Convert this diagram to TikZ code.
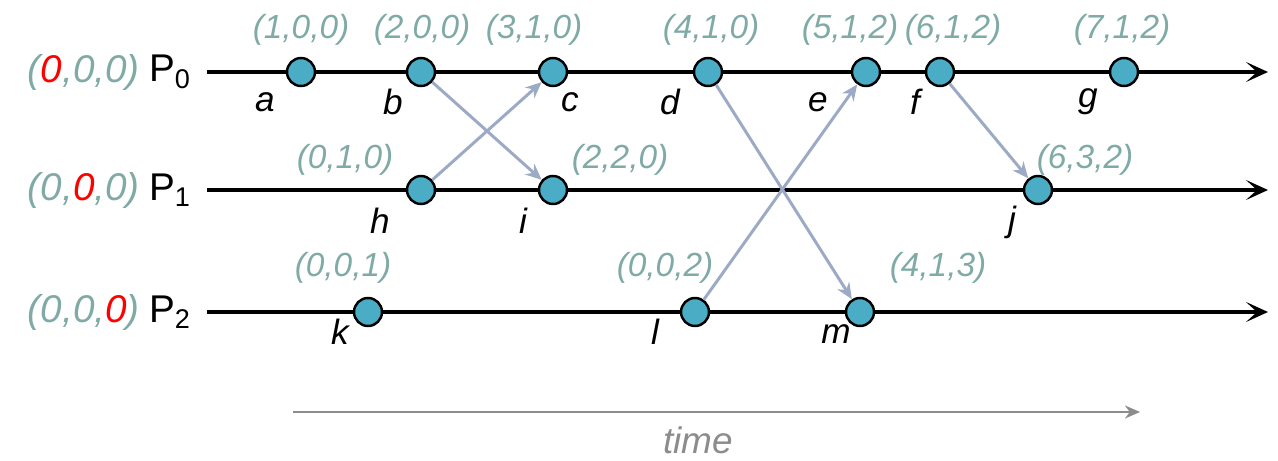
\documentclass[tikz,border=0pt]{standalone}
\usepackage{fontspec}
\setmainfont{Liberation Sans}
\usetikzlibrary{arrows.meta,positioning}
\definecolor{eventcyan}{HTML}{4BACC6}
\definecolor{stampgrey}{HTML}{7FAAA6}
\definecolor{msgblue}{HTML}{9DAAC6}
\definecolor{timegrey}{HTML}{8C8C8C}

\begin{document}
\begin{tikzpicture}[x=0.02cm, y=-0.02cm,
        event/.style={circle, draw=black, line width=1.4pt, fill=eventcyan, minimum size=0.56cm, inner sep=0pt},
        stamp/.style={font=\fontsize{19}{22}\selectfont\itshape, text=stampgrey, inner sep=0pt},
        initstamp/.style={font=\fontsize{22}{24}\selectfont\itshape, text=stampgrey, inner sep=0pt},
        evlabel/.style={font=\fontsize{20}{22}\selectfont\itshape, inner sep=0pt},
        proclabel/.style={font=\fontsize{22}{24}\selectfont, inner sep=0pt},
        procline/.style={-{Stealth[length=4.4mm,width=4mm,inset=2.2mm]}, line width=1.9pt},
        msgarrow/.style={-{Stealth[length=3.2mm,width=2.8mm]}, line width=1.7pt, draw=msgblue},
    ]
    \useasboundingbox (0,0) rectangle (1278,460);
    % Row positions
    \def\rowA{72}
    \def\rowB{190}
    \def\rowC{312}

    % === Process lines ===
    \coordinate (p0s) at (207,\rowA);
    \coordinate (p0e) at (1268,\rowA);
    \coordinate (p1s) at (207,\rowB);
    \coordinate (p1e) at (1268,\rowB);
    \coordinate (p2s) at (207,\rowC);
    \coordinate (p2e) at (1268,\rowC);
    \draw[procline] (p0s) -- (p0e);
    \draw[procline] (p1s) -- (p1e);
    \draw[procline] (p2s) -- (p2e);

    % Process names
    \node[proclabel] (P0) at (170,\rowA) {P\textsubscript{0}};
    \node[initstamp, left=5pt of P0] (v0) {(\textcolor{red}{0},0,0)};
    \node[proclabel] (P1) at (170,\rowB) {P\textsubscript{1}};
    \node[initstamp, left=5pt of P1] (v1) {(0,\textcolor{red}{0},0)};
    \node[proclabel] (P2) at (170,\rowC) {P\textsubscript{2}};
    \node[initstamp, left=5pt of P2] (v2) {(0,0,\textcolor{red}{0})};

    % === Events on P0 ===
    \node[event] (a) at (301,\rowA) {};
    \node[event] (b) at (421,\rowA) {};
    \node[event] (c) at (553,\rowA) {};
    \node[event] (d) at (708,\rowA) {};
    \node[event] (e) at (866,\rowA) {};
    \node[event] (f) at (940,\rowA) {};
    \node[event] (g) at (1124,\rowA) {};
    \node[stamp] (sa) at (301,30) {(1,0,0)};
    \node[stamp] (sb) at (422,30) {(2,0,0)};
    \node[stamp] (sc) at (534,30) {(3,1,0)};
    \node[stamp] (sd) at (711,30) {(4,1,0)};
    \node[stamp] (se) at (850,30) {(5,1,2)};
    \node[stamp] (sf) at (953,30) {(6,1,2)};
    \node[stamp] (sg) at (1122,30) {(7,1,2)};
    \node[evlabel] (la) at (265,102) {a};
    \node[evlabel] (lb) at (393,102) {b};
    \node[evlabel] (lc) at (570,102) {c};
    \node[evlabel] (ld) at (670,102) {d};
    \node[evlabel] (le) at (818,102) {e};
    \node[evlabel] (lf) at (915,102) {f};
    \node[evlabel] (lg) at (1088,102) {g};

    % === Events on P1 ===
    \node[event] (h) at (421,\rowB) {};
    \node[event] (i) at (553,\rowB) {};
    \node[event] (j) at (1038,\rowB) {};
    \node[stamp] (sh) at (345,160) {(0,1,0)};
    \node[stamp] (si) at (620,160) {(2,2,0)};
    \node[stamp] (sj) at (1085,160) {(6,3,2)};
    \node[evlabel] (lh) at (380,221) {h};
    \node[evlabel] (li) at (523,221) {i};
    \node[evlabel] (lj) at (1012,222) {j};

    % === Events on P2 ===
    \node[event] (k) at (368,\rowC) {};
    \node[event] (l) at (695,\rowC) {};
    \node[event] (m) at (860,\rowC) {};
    \node[stamp] (sk) at (343,268) {(0,0,1)};
    \node[stamp] (sl) at (665,268) {(0,0,2)};
    \node[stamp] (sm) at (938,268) {(4,1,3)};
    \node[evlabel] (lk) at (340,332) {k};
    \node[evlabel] (ll) at (655,332) {l};
    \node[evlabel] (lm) at (836,334) {m};

    % Messages
    \draw[msgarrow] (b) -- (i);
    \draw[msgarrow] (h) -- (c);
    \draw[msgarrow] (d) -- (m);
    \draw[msgarrow] (l) -- (e);
    \draw[msgarrow] (f) -- (j);

    % Time axis
    \coordinate (ts) at (293,412);
    \coordinate (te) at (1140,412);
    \draw[-{Stealth[length=3mm,width=2.6mm]}, line width=1.5pt, draw=timegrey] (ts) -- (te);
    \node[font=\fontsize{21}{24}\selectfont\itshape, text=timegrey] (tl) at (698,440) {time};
\end{tikzpicture}
\end{document}
